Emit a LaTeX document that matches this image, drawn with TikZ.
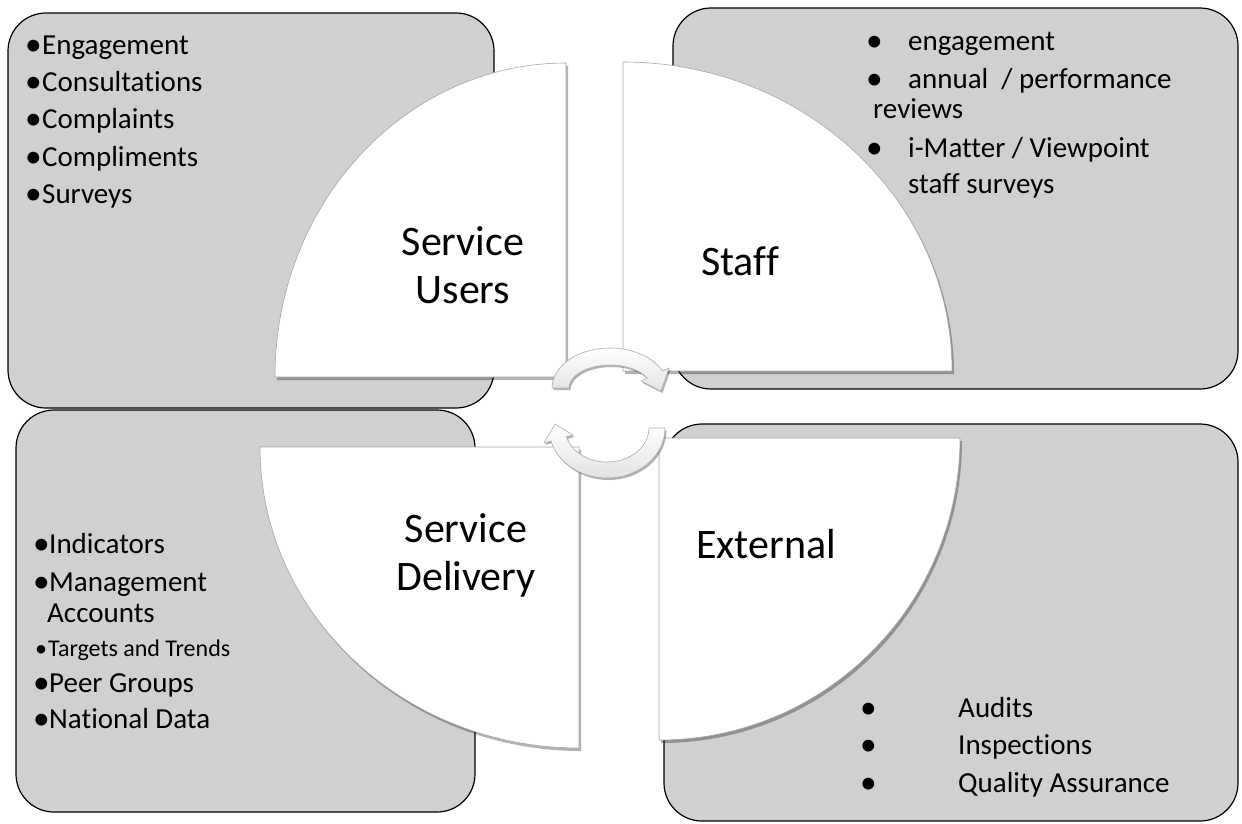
\documentclass[tikz,border=0pt]{standalone}
\usepackage{graphicx}
\usepackage{fontspec}
\setmainfont{Carlito}[Ligatures=NoCommon]
\usetikzlibrary{positioning}
\usetikzlibrary{shadows}
\definecolor{panelgray}{RGB}{208,208,208}

% a bullet a little larger than the font's own, in a box of given width
\newcommand{\blt}[1]{\makebox[#1][l]{\raisebox{-1pt}{\scalebox{1.15}{•}}}}

\tikzset{
	panel/.style={draw=black, line width=1.2pt, fill=panelgray, rounded corners=38pt},
	quarter/.style={draw=gray!70, line width=0.6pt, fill=white,
		drop shadow={shadow xshift=2pt, shadow yshift=-3pt, fill=black, opacity=0.3}},
	looparrow/.style={draw=gray!65, line width=0.6pt, top color=white, bottom color=gray!22,
		drop shadow={shadow xshift=1.5pt, shadow yshift=-2pt, fill=black, opacity=0.3}},
	item/.style={anchor=base west, inner sep=0pt, font=\fontsize{29}{35}\selectfont},
	heading/.style={anchor=base, align=center, inner sep=0pt, font=\fontsize{42}{48}\selectfont},
}

\begin{document}
\begin{tikzpicture}[x=1pt, y=-1pt]

	\useasboundingbox (0,0) rectangle (1242,823);

	% the four grey panels
	\draw[panel] (8,13) rectangle (494,408);
	\draw[panel] (673,8) rectangle (1238,389);
	\draw[panel] (16,410) rectangle (475,812);
	\draw[panel] (664,424) rectangle (1238,821);

	% panel texts (baselines)
	\foreach \txt/\yy [count=\i] in {Engagement/54, Consultations/91, Complaints/128, Compliments/166, Surveys/203}
		\node[item] (user\i) at (25,\yy) {\blt{17pt}\txt};

	\node[item] (staff1) at (866,50) {\blt{42pt}engagement};
	\node[item] (staff2) at (866,88) {\blt{42pt}annual~ / performance};
	\node[item] (staff3) at (873,118) {reviews};
	\node[item] (staff4) at (866,157) {\blt{42pt}i-Matter / Viewpoint};
	\node[item] (staff5) at (908,193) {staff surveys};

	\node[item] (deliv1) at (33,553) {\blt{16pt}Indicators};
	\node[item] (deliv2) at (33,591) {\blt{16pt}Management};
	\node[item] (deliv3) at (47,622) {Accounts};
	\node[item, font=\fontsize{24}{29}\selectfont] (deliv4) at (35,656) {\makebox[13pt][l]{•}Targets and Trends};
	\node[item] (deliv5) at (33,692) {\blt{16pt}Peer Groups};
	\node[item] (deliv6) at (33,728) {\blt{16pt}National Data};

	\foreach \txt/\yy [count=\i] in {Audits/717, Inspections/754, Quality Assurance/792}
		\node[item] (ext\i) at (860,\yy) {\blt{98pt}\txt};

	% the four white quarters, corner first
	\draw[quarter] (566,377) -- (275,377) arc[start angle=180, end angle=270, x radius=291, y radius=314] -- cycle;
	\draw[quarter] (623,371) -- (623,62) arc[start angle=270, end angle=360, x radius=329, y radius=309] -- cycle;
	\draw[quarter] (579,447) -- (579,748) arc[start angle=90, end angle=180, x radius=319, y radius=301] -- cycle;
	\draw[quarter] (659,438) -- (960,438) arc[start angle=0, end angle=90, x radius=301, y radius=302] -- cycle;

	% base of a two-line heading is its last line
	\node[heading] (SU) at (463,303) {Service\\Users};
	\node[heading] (ST) at (740,275) {Staff};
	\node[heading] (SD) at (466,590) {Service\\Delivery};
	\node[heading] (EX) at (766,558) {External};

	% the two curved arrows in the middle
	\draw[looparrow] (552,388) arc[start angle=180, end angle=335, x radius=58, y radius=40]
		-- (669,368) -- (661,391) -- (641,381) -- (647.2,378.3)
		arc[start angle=335, end angle=180, x radius=41, y radius=23] -- cycle;
	\draw[looparrow] (665,428) arc[start angle=0, end angle=165, x radius=58, y radius=50]
		-- (544,443) -- (555,424) -- (573,435) -- (566.4,436.8)
		arc[start angle=165, end angle=0, x radius=42, y radius=34] -- cycle;

\end{tikzpicture}
\end{document}
